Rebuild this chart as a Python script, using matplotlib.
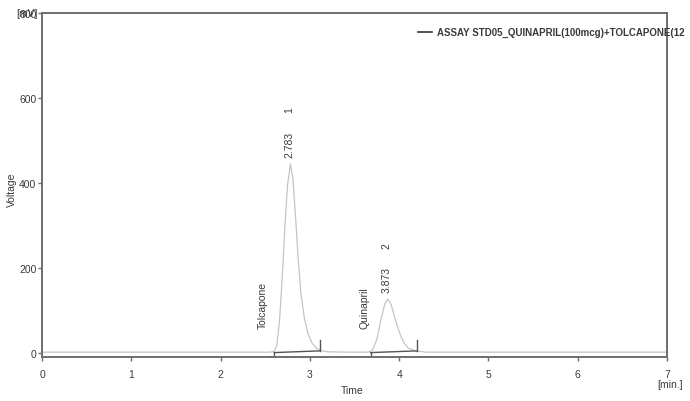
import matplotlib.pyplot as plt
import numpy as np

plt.rcParams["font.family"] = ["Liberation Sans", "DejaVu Sans"]

# chromatogram trace (time in min, signal in mV)
trace_t = [0.0, 1.0, 2.0, 2.55, 2.60, 2.63, 2.66, 2.69, 2.72, 2.75, 2.783,
           2.81, 2.84, 2.87, 2.90, 2.94, 2.98, 3.02, 3.07, 3.12, 3.20, 3.40,
           3.65, 3.70, 3.75, 3.80, 3.84, 3.873, 3.91, 3.95, 4.00, 4.05, 4.10,
           4.18, 4.30, 5.0, 6.0, 7.0]
trace_mv = [2, 2, 2, 2, 4, 18, 75, 175, 295, 395, 445,
            410, 320, 220, 140, 80, 45, 25, 12, 6, 3, 2,
            2, 6, 32, 82, 116, 127, 114, 84, 50, 25, 12,
            5, 2, 2, 2, 2]

peak_names = ["Tolcapone", "Quinapril"]
peak_rt = [2.783, 3.873]
peak_height = [445, 127]
peak_start = [2.60, 3.68]
peak_end = [3.11, 4.20]
legend_label = "ASSAY STD05_QUINAPRIL(100mcg)+TOLCAPONE(12"

axis_col = "#6e6e6e"
text_col = "#3a3a3a"

fig = plt.figure(figsize=(6.9, 4.02), dpi=100)
ax = fig.add_axes([42 / 690, 1 - 358 / 402, 625 / 690, 344 / 402])

ax.plot(trace_t, trace_mv, color="#c4c4c4", lw=0.9)

# integration baselines with start/end markers
for s, e in zip(peak_start, peak_end):
    ax.plot([s, e], [1, 5], color="#555555", lw=1.0)
    ax.plot([s, s], [1, -9], color="#555555", lw=1.0)
    ax.plot([e, e], [5, 30], color="#555555", lw=1.0)

# retention time, peak number and compound name labels
name_dx = [-11, -6]
for i, (rt, h, name) in enumerate(zip(peak_rt, peak_height, peak_names)):
    ax.annotate(f"{rt:.3f}", (rt, h), xytext=(-1, 5), textcoords="offset points",
                rotation=90, ha="center", va="bottom", fontsize=7.5, color=text_col)
    ax.annotate(str(i + 1), (rt, h), xytext=(-1, 37), textcoords="offset points",
                rotation=90, ha="center", va="bottom", fontsize=7.5, color=text_col)
    ax.annotate(name, (peak_start[i], 0), xytext=(name_dx[i] * 0.72, 18),
                textcoords="offset points", rotation=90, ha="center", va="bottom",
                fontsize=7.5, color=text_col)

ax.set_xlim(0, 7)
ax.set_ylim(-9.4, 800)
ax.set_xticks(range(8))
ax.set_yticks([0, 200, 400, 600, 800])
ax.tick_params(colors=axis_col, labelcolor=text_col, labelsize=7.5, length=3, width=1.0)
ax.tick_params(axis="x", pad=6)
ax.tick_params(axis="y", pad=1)
for sp in ax.spines.values():
    sp.set_color(axis_col)
    sp.set_linewidth(1.4)

fig.text(12 / 690, 1 - 190 / 402, "Voltage", rotation=90, ha="center", va="center",
         fontsize=7.5, color=text_col)
fig.text(27 / 690, 1 - 14 / 402, "[mV]", ha="center", va="center",
         fontsize=7.5, color=text_col)
fig.text(352 / 690, 1 - 391 / 402, "Time", ha="center", va="center",
         fontsize=7.5, color=text_col)
fig.text(670 / 690, 1 - 385 / 402, "[min.]", ha="center", va="center",
         fontsize=7.5, color=text_col)

# legend entry
fig.add_artist(plt.Line2D([418 / 690, 432 / 690], [1 - 33 / 402] * 2,
                          color="#333333", lw=1.2, transform=fig.transFigure))
fig.text(437 / 690, 1 - 33 / 402, legend_label, ha="left", va="center",
         fontsize=7, fontweight="bold", color=text_col)

fig.savefig("out.png", dpi=100)
